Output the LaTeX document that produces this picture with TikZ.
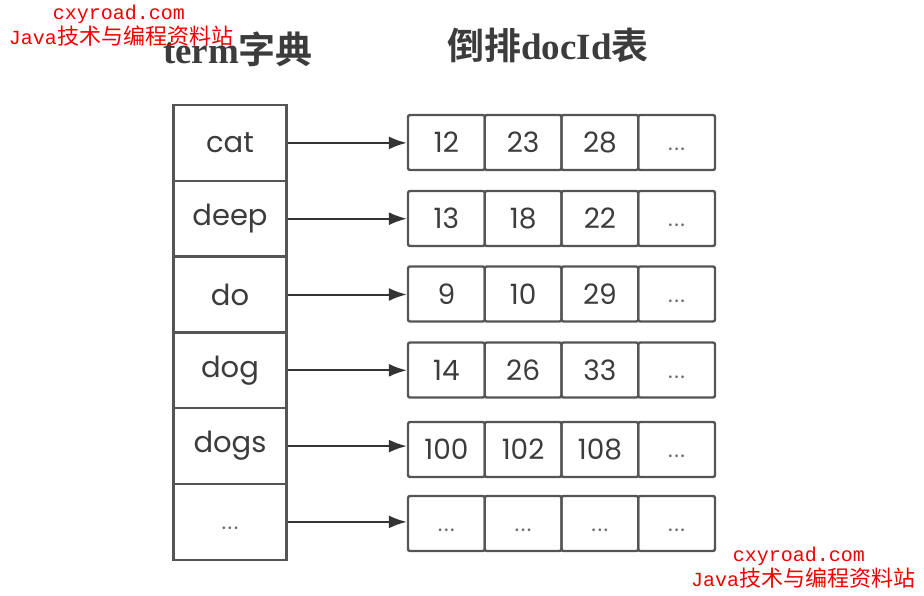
\documentclass[tikz,border=0pt]{standalone}
\usepackage{fontspec}
\setmainfont{Poppins}
\newfontfamily\cjk[BoldFont={Noto Sans CJK SC Bold}]{Noto Sans CJK SC}
\newfontfamily\wmmono{Liberation Mono}
\newfontfamily\titleserif{Liberation Serif}
\usetikzlibrary{arrows.meta}
\definecolor{linegray}{HTML}{555555}
\definecolor{txtgray}{HTML}{3C3C3C}
\definecolor{wmred}{HTML}{F00000}
\newcommand{\tdots}{\vphantom{0}.\kern1.5pt.\kern1.5pt.}
\tikzset{
  termbox/.style={draw=linegray, line width=2.4pt, minimum width=113pt, minimum height=75.8pt, inner sep=0pt, text=txtgray, font=\fontsize{29}{32}\selectfont},
  cellbox/.style={draw=linegray, line width=2.4pt, rounded corners=2pt, minimum width=76.75pt, minimum height=55pt, inner sep=0pt, text=txtgray, font=\fontsize{28}{32}\selectfont},
  dotsbox/.style={cellbox, text=txtgray!75, font=\fontsize{22}{24}\selectfont},
  arr/.style={draw=black!80, line width=2pt, -{Latex[length=18pt,width=13pt]}},
  title/.style={text=txtgray, inner sep=0pt},
  wm/.style={text=wmred, inner sep=0pt}
}
\begin{document}
\begin{tikzpicture}[x=1pt,y=-1pt]
\useasboundingbox (0,0) rectangle (924,595);
% titles
\node[title] (ttl1) at (238,49) {\fontsize{37}{40}\selectfont{\titleserif\bfseries term}{\cjk\bfseries 字典}};
\node[title] (ttl2) at (548,45) {\fontsize{37}{40}\selectfont{\cjk\bfseries 倒排}{\titleserif\bfseries docId}{\cjk\bfseries 表}};
% term column
\node[termbox] (t1) at (230,142.9) {cat};
\node[termbox] (t2) at (230,218.7) {deep};
\node[termbox] (t3) at (230,294.5) {do};
\node[termbox] (t4) at (230,370.3) {dog};
\node[termbox] (t5) at (230,446.1) {dogs};
\node[termbox, text=txtgray!75, font=\fontsize{22}{24}\selectfont] (t6) at (230,521.9) {\tdots};
% docId rows
\node[cellbox] (c11) at (446.4,142.5) {12};
\node[cellbox] (c12) at (523.1,142.5) {23};
\node[cellbox] (c13) at (599.9,142.5) {28};
\node[dotsbox] (c14) at (676.6,142.5) {\tdots};
\node[cellbox] (c21) at (446.4,218.5) {13};
\node[cellbox] (c22) at (523.1,218.5) {18};
\node[cellbox] (c23) at (599.9,218.5) {22};
\node[dotsbox] (c24) at (676.6,218.5) {\tdots};
\node[cellbox] (c31) at (446.4,294) {9};
\node[cellbox] (c32) at (523.1,294) {10};
\node[cellbox] (c33) at (599.9,294) {29};
\node[dotsbox] (c34) at (676.6,294) {\tdots};
\node[cellbox] (c41) at (446.4,370) {14};
\node[cellbox] (c42) at (523.1,370) {26};
\node[cellbox] (c43) at (599.9,370) {33};
\node[dotsbox] (c44) at (676.6,370) {\tdots};
\node[cellbox] (c51) at (446.4,449.5) {100};
\node[cellbox] (c52) at (523.1,449.5) {102};
\node[cellbox] (c53) at (599.9,449.5) {108};
\node[dotsbox] (c54) at (676.6,449.5) {\tdots};
\node[dotsbox] (c61) at (446.4,523.5) {\tdots};
\node[dotsbox] (c62) at (523.1,523.5) {\tdots};
\node[dotsbox] (c63) at (599.9,523.5) {\tdots};
\node[dotsbox] (c64) at (676.6,523.5) {\tdots};
% arrows
\draw[arr] (t1.east) -- (t1.east -| c11.west);
\draw[arr] (t2.east) -- (t2.east -| c21.west);
\draw[arr] (t3.east) -- (t3.east -| c31.west);
\draw[arr] (t4.east) -- (t4.east -| c41.west);
\draw[arr] (t5.east) -- (t5.east -| c51.west);
\draw[arr] (t6.east) -- (t6.east -| c61.west);
% watermarks
\node[wm, font=\wmmono\fontsize{20}{22}\selectfont] (w1) at (119,14) {cxyroad.com};
\node[wm, font=\fontsize{20}{22}\selectfont] (w2) at (121,36) {{\wmmono Java}{\cjk\fontsize{22}{24}\selectfont 技术与编程资料站}};
\node[wm, font=\wmmono\fontsize{20}{22}\selectfont] (w3) at (799,556) {cxyroad.com};
\node[wm, font=\fontsize{20}{22}\selectfont] (w4) at (803,578) {{\wmmono Java}{\cjk\fontsize{22}{24}\selectfont 技术与编程资料站}};
\end{tikzpicture}
\end{document}
